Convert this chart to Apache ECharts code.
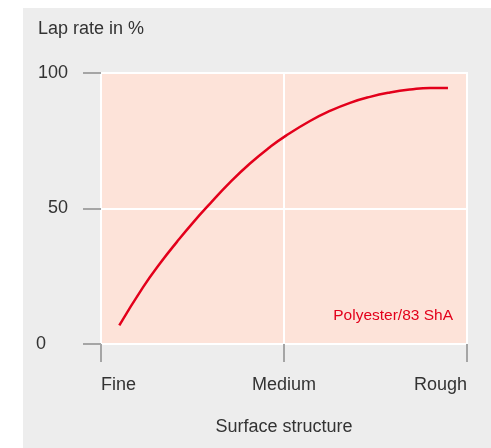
<!DOCTYPE html>
<html>
<head>
<meta charset="utf-8">
<script src="https://cdn.jsdelivr.net/npm/echarts@6/dist/echarts.min.js"></script>
<style>
  html, body { margin: 0; padding: 0; background: #fff; }
  #chart { width: 491px; height: 448px; }
</style>
</head>
<body>
<div id="chart"></div>
<script>
// surface structure categories (x = 0, 1, 2)
const xLabels = ['Fine', 'Medium', 'Rough']
const yTicks = [0, 50, 100]
// curve: position along the surface axis, lap rate in %
const curveX = [0.100, 0.231, 0.322, 0.414, 0.504, 0.596, 0.705, 0.814, 0.924, 1.011, 1.142, 1.251, 1.361, 1.470, 1.579, 1.689, 1.798, 1.896]
const curveY = [6.9, 21.1, 29.7, 37.6, 44.9, 51.8, 59.6, 66.6, 72.7, 76.9, 82.3, 86.0, 89.0, 91.2, 92.8, 93.9, 94.5, 94.5]
const seriesName = 'Polyester/83 ShA'

const font = 'Liberation Sans, Arial, sans-serif'
const red = '#e3001b'
const ink = '#333'

const chart = echarts.init(document.getElementById('chart'))

chart.setOption({
  backgroundColor: '#fff',
  animation: false,
  textStyle: { fontFamily: font },
  title: {
    text: 'Lap rate in %',
    left: 38,
    top: 20,
    padding: 0,
    textStyle: { fontSize: 18, fontWeight: 'normal', color: ink, fontFamily: font },
  },
  grid: {
    left: 101,
    right: 24,
    top: 73,
    bottom: 104,
    show: true,
    backgroundColor: '#fde3d9',
    borderColor: '#fff',
    borderWidth: 2,
  },
  graphic: [
    {
      type: 'rect',
      z: -10,
      silent: true,
      shape: { x: 23, y: 8, width: 468, height: 440 },
      style: { fill: '#ededed' },
    },
    {
      type: 'text',
      z: 100,
      x: 453,
      y: 316,
      style: {
        text: seriesName,
        fill: red,
        fontSize: 15.5,
        fontFamily: font,
        textAlign: 'right',
        textVerticalAlign: 'middle',
      },
    },
  ],
  xAxis: {
    type: 'value',
    min: 0,
    max: 2,
    interval: 1,
    name: 'Surface structure',
    nameLocation: 'middle',
    nameGap: 74,
    nameTextStyle: { fontSize: 18, color: ink, fontFamily: font },
    axisLine: { show: false },
    axisTick: { show: true, length: 18, lineStyle: { color: '#a5a5a5', width: 2 } },
    axisLabel: {
      margin: 32,
      fontSize: 18,
      color: ink,
      fontFamily: font,
      alignMinLabel: 'left',
      alignMaxLabel: 'right',
      formatter: (v) => xLabels[Math.round(v)],
    },
    splitLine: { show: true, lineStyle: { color: '#fff', width: 2 } },
  },
  yAxis: {
    type: 'value',
    min: yTicks[0],
    max: yTicks[yTicks.length - 1],
    interval: 50,
    axisLine: { show: false },
    axisTick: { show: true, length: 18, lineStyle: { color: '#a5a5a5', width: 2 } },
    axisLabel: {
      margin: 33,
      fontSize: 18,
      color: ink,
      fontFamily: font,
      formatter: (v) => (v === 0 ? '{z|0}' : String(v)),
      rich: { z: { fontSize: 18, color: ink, fontFamily: font, padding: [0, 22, 0, 0] } },
    },
    splitLine: { show: true, lineStyle: { color: '#fff', width: 2 } },
  },
  series: [
    {
      name: seriesName,
      type: 'line',
      smooth: 0.5,
      symbol: 'none',
      z: 10,
      lineStyle: { color: red, width: 2.5 },
      data: curveX.map((x, i) => [x, curveY[i]]),
    },
  ],
})
</script>
</body>
</html>
